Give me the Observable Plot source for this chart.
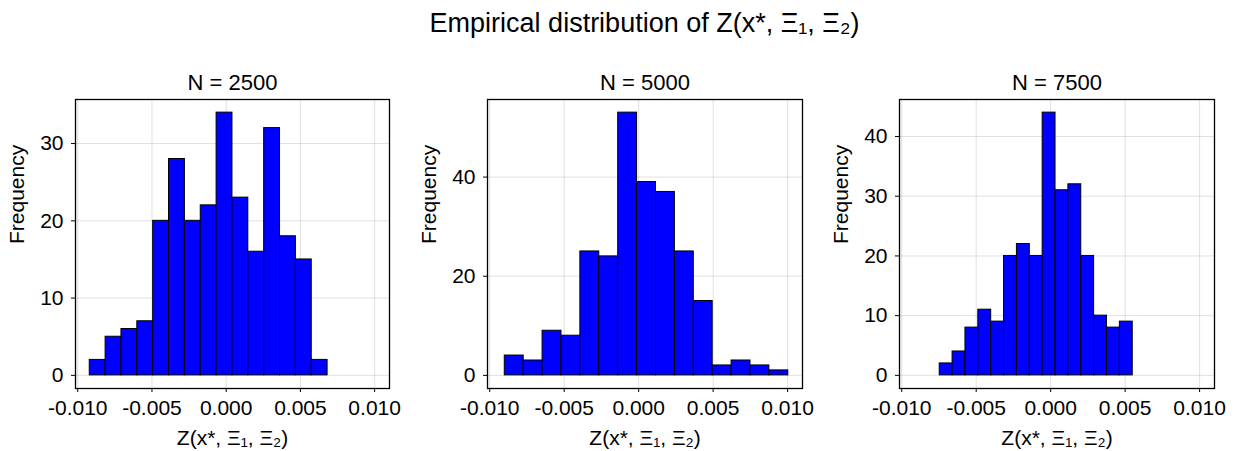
<!DOCTYPE html>
<html>
<head>
<meta charset="utf-8">
<script src="https://cdn.jsdelivr.net/npm/d3@7"></script>
<script src="https://cdn.jsdelivr.net/npm/@observablehq/plot@0.6"></script>
<style>
  body { margin: 0; background: #fff; }
  #chart { position: relative; width: 1234px; height: 451px; font-family: "Liberation Sans", Arial, sans-serif; color: #000; }
  #title { position: absolute; left: 75px; width: 1139px; top: 10px; text-align: center; font-size: 27px; line-height: 27px; white-space: nowrap; }
  .panel { position: absolute; top: 60px; }
</style>
</head>
<body>
<div id="chart"><div id="title">Empirical distribution of Z(x*, Ξ₁, Ξ₂)</div></div>
<script>
// Histogram counts (15 bins per sample size)
const counts2500 = [2, 5, 6, 7, 20, 28, 20, 22, 34, 23, 16, 32, 18, 15, 2];
const counts5000 = [4, 3, 9, 8, 25, 24, 53, 39, 37, 25, 15, 2, 3, 2, 1];
const counts7500 = [2, 4, 8, 11, 9, 20, 22, 20, 44, 31, 32, 20, 10, 8, 9];

// Left edge of the first bin and bin width for each sample size
const binStarts = [-0.00919, -0.00899, -0.00745];
const binWidths = [0.001068, 0.001269, 0.000864];

const panelTitles = ["N = 2500", "N = 5000", "N = 7500"];
const xTicks = [-0.010, -0.005, 0.000, 0.005, 0.010];
const yTicks2500 = [0, 10, 20, 30];
const yTicks5000 = [0, 20, 40];
const yTicks7500 = [0, 10, 20, 30, 40];

const xLabel = "Z(x*, Ξ₁, Ξ₂)";
const yLabel = "Frequency";

const xDomain = [-0.01015, 0.0110];
const fmtX = d => d3.format(".3f")(d).replace("\u2212", "-");
const gridStyle = {stroke: "#000", strokeOpacity: 0.12, strokeWidth: 1};

const panels = [
  {counts: counts2500, start: binStarts[0], width: binWidths[0], title: panelTitles[0], yTicks: yTicks2500, left: 0,   w: 410, ml: 75, mr: 21},
  {counts: counts5000, start: binStarts[1], width: binWidths[1], title: panelTitles[1], yTicks: yTicks5000, left: 410, w: 410, ml: 77, mr: 18},
  {counts: counts7500, start: binStarts[2], width: binWidths[2], title: panelTitles[2], yTicks: yTicks7500, left: 820, w: 414, ml: 79, mr: 20}
];

function histogram(p) {
  const bins = p.counts.map((c, i) => ({x1: p.start + i * p.width, x2: p.start + (i + 1) * p.width, count: c}));
  const maxCount = d3.max(p.counts);
  return Plot.plot({
    width: p.w,
    height: 391,
    marginLeft: p.ml,
    marginRight: p.mr,
    marginTop: 39,
    marginBottom: 63,
    style: {fontSize: "21px", fontFamily: "'Liberation Sans', Arial, sans-serif", background: "transparent", overflow: "visible", color: "#000"},
    x: {domain: xDomain},
    y: {domain: [-0.05 * maxCount, 1.05 * maxCount]},
    marks: [
      Plot.gridX(xTicks, gridStyle),
      Plot.gridY(p.yTicks, gridStyle),
      Plot.rect(bins, {x1: "x1", x2: "x2", y1: 0, y2: "count", fill: "#0000ff", stroke: "#000", strokeWidth: 1}),
      Plot.frame({stroke: "#000", strokeWidth: 1.3}),
      Plot.axisX(xTicks, {tickSize: 4, tickPadding: 8, tickFormat: fmtX, label: null}),
      Plot.axisY(p.yTicks, {tickSize: 4, tickPadding: 8, label: null}),
      Plot.text([p.title], {text: d => d, frameAnchor: "top", lineAnchor: "middle", dy: -17, fontSize: 22}),
      Plot.text([xLabel], {text: d => d, frameAnchor: "bottom", lineAnchor: "middle", dy: 50, fontSize: 21}),
      Plot.text([yLabel], {text: d => d, frameAnchor: "left", lineAnchor: "middle", dx: -58, rotate: -90, fontSize: 21})
    ]
  });
}

const chart = document.getElementById("chart");
for (const p of panels) {
  const div = document.createElement("div");
  div.className = "panel";
  div.style.left = p.left + "px";
  div.appendChild(histogram(p));
  chart.appendChild(div);
}
</script>
</body>
</html>
